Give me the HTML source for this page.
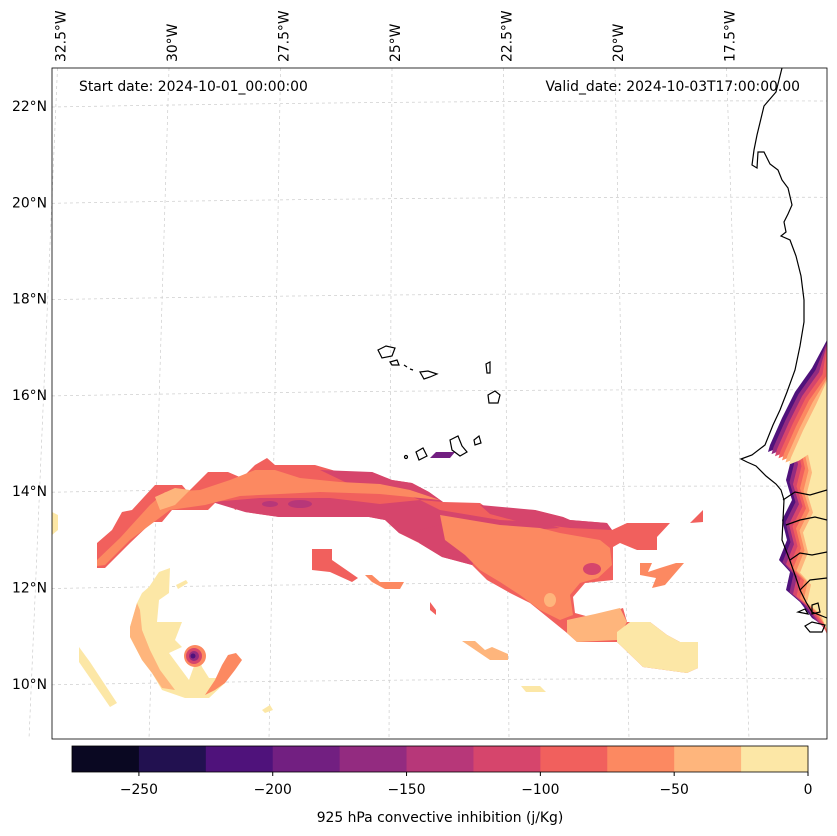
<!DOCTYPE html>
<html><head><meta charset="utf-8"><style>
body{margin:0;background:#fff;font-family:"Liberation Sans","DejaVu Sans",sans-serif}
svg{display:block}
text{font-family:"DejaVu Sans","Liberation Sans",sans-serif;font-size:13.9px;fill:#000}
</style></head><body>
<svg id="chart" width="837" height="836" viewBox="0 0 837 836">
<defs><clipPath id="mapclip"><rect x="52" y="68" width="775" height="671"/></clipPath></defs>
<rect x="0" y="0" width="837" height="836" fill="#fff"/>
<g id="grid"></g>
<g clip-path="url(#mapclip)">
 <polygon fill="#f1605d" points="97,543 112,530 122,512 132,510 155,485 182,485 188,492 208,472 228,472 242,478 255,465 267,458 275,465 315,465 339,472 372,472 392,480 412,483 429,492 443,502 480,503 487,508 535,510 563,517 570,520 607,523 612,530 627,523 670,523 657,537 657,550 637,550 620,543 613,547 613,580 585,583 573,597 575,613 593,618 623,608 627,622 650,622 667,635 680,642 698,642 698,668 687,673 643,667 617,642 577,642 567,633 530,603 510,593 487,580 472,565 442,557 419,543 399,533 385,520 369,517 279,517 245,512 242,507 235,510 232,503 215,503 208,510 172,510 162,522 152,522 130,543 105,568 97,568"/>
 <polygon fill="#d6456c" points="212,502 260,498 330,498 380,504 420,500 440,510 470,515 500,520 540,522 560,528 530,530 500,528 470,522 440,530 420,543 399,533 385,520 369,517 279,517 245,512"/>
 <polygon fill="#d6456c" points="320,470 372,472 392,480 412,483 429,492 443,502 420,500 400,492 370,488 345,482"/>
 <polygon fill="#d6456c" points="480,505 535,510 563,517 570,520 607,523 612,530 570,528 520,522 490,514"/>
 <polygon fill="#d6456c" points="420,530 440,525 470,545 475,560 472,565 442,557 419,543"/>
 <ellipse cx="300" cy="504" rx="12" ry="4" fill="#b73779"/>
 <ellipse cx="270" cy="504" rx="8" ry="3" fill="#b73779"/>
 <polygon fill="#fc8961" points="97,560 120,538 150,505 165,492 200,490 230,480 255,470 275,470 300,478 340,482 380,484 410,490 440,500 420,498 380,494 320,492 280,494 240,496 205,505 170,510 150,525 130,540 105,565 97,566"/>
 <polygon fill="#feb57c" points="155,497 175,488 190,490 175,505 160,510"/>
 <polygon fill="#fc8961" points="440,515 470,520 500,525 540,528 560,533 600,540 610,548 612,565 598,578 580,583 570,595 573,615 560,620 540,610 520,595 500,582 480,570 465,555 445,540"/>
 <ellipse cx="592" cy="569" rx="9" ry="6" fill="#d6456c"/>
 <ellipse cx="550" cy="600" rx="6" ry="7" fill="#feb57c"/>
 <polygon fill="#feb57c" points="567,620 595,614 620,608 627,622 617,640 577,642 567,633"/>
 <polygon fill="#fce7a6" points="617,632 630,622 650,622 667,635 680,642 698,642 698,668 687,673 643,667 617,642"/>
 <polygon fill="#f1605d" points="312,549 332,549 332,560 358,578 352,582 330,572 312,570"/>
 <polygon fill="#fc8961" points="365,575 372,575 380,582 404,582 400,589 385,589 372,582"/>
 <polygon fill="#f1605d" points="430,602 436,610 436,615 430,610"/>
 <polygon fill="#fc8961" points="640,563 652,563 648,572 660,568 676,563 684,563 665,585 652,588 656,578 640,575"/>
 <polygon fill="#f1605d" points="703,510 703,522 690,523"/>
 <polygon fill="#feb57c" points="462,641 475,641 485,650 492,647 508,654 508,660 490,660"/>
 <polygon fill="#fce7a6" points="521,686 540,686 546,692 526,692"/>
 <polygon fill="#fce7a6" points="262,710 270,705 273,710 265,713"/>
 <polygon fill="#fce7a6" points="52,512 58,515 58,530 52,535"/>
 <polygon fill="#fce7a6" points="170,568 159,572 149,587 142,593 137,603 130,627 130,637 142,660 152,673 162,690 185,698 209,698 225,683 235,667 233,655 227,663 217,678 209,678 202,667 198,655 189,680 169,653 182,647 175,640 182,622 157,622 159,600 169,593"/>
 <polygon fill="#feb57c" points="137,603 130,627 130,637 142,660 152,673 162,688 175,690 160,670 150,650 142,630 140,610"/>
 <polygon fill="#fc8961" points="228,655 236,653 242,660 235,670 225,683 215,690 205,695 215,680 222,665"/>
 <polygon fill="#fce7a6" points="79,647 90,662 117,703 110,707 79,662"/>
 <polygon fill="#fce7a6" points="176,585 186,580 188,583 178,589"/>
 <circle cx="195" cy="656" r="11" fill="#fc8961"/>
 <circle cx="194" cy="656" r="8" fill="#d6456c"/>
 <circle cx="194" cy="656" r="5" fill="#932b80"/>
 <circle cx="193" cy="656" r="2.5" fill="#4f127b"/>
 <polygon fill="#721f81" points="436,452 455,452 450,458 430,458"/>
 <g id="coastfill"></g>
</g>
<g fill="none" stroke="#000" stroke-width="1.2" clip-path="url(#mapclip)">
 <polyline points="782,68 776,92 764,106 757,135 754,150 752,165 757,168 758,152 764,152 770,164 778,170 782,180 788,188 792,205 788,214 784,222 786,232 781,236 790,240 796,256 801,276 804,300 804,322 800,346 795,370 787,392 780,410 773,425 765,445 752,455 741,459 747,462 756,466 766,476 776,484 781,490 784,500 783,520 782,540 789,558 795,575 800,590 806,602 812,612 827,618"/>
 <polyline points="783,500 795,492 810,495 827,490"/>
 <polyline points="786,525 800,520 815,517 827,520"/>
 <polyline points="790,560 800,553 812,555 827,552"/>
 <polyline points="800,590 810,580 827,578"/>
 <path d="M378,350 L386,346 395,348 392,356 382,358 Z"/>
 <path d="M390,362 L397,360 399,365 392,365 Z"/>
 <path d="M404,365 L407,367"/>
 <path d="M410,369 L413,370"/>
 <path d="M420,372 L428,371 437,374 430,377 424,379 Z"/>
 <path d="M486,364 L490,362 490,373 487,373 Z"/>
 <path d="M488,395 L495,391 500,395 498,403 489,403 Z"/>
 <path d="M450,440 L458,436 462,446 467,452 460,456 452,450 Z"/>
 <path d="M474,440 L479,436 481,443 475,445 Z"/>
 <path d="M416,452 L423,448 427,456 419,460 Z"/>
 <circle cx="406" cy="457" r="1.5"/>
 <path d="M798,612 L805,609 808,614 Z"/>
 <path d="M812,605 L818,603 820,612 812,614 Z"/>
 <path d="M805,626 L812,622 825,625 822,632 810,632 Z"/>
</g>
<rect x="52" y="68" width="775" height="671" fill="none" stroke="#000" stroke-width="0.8"/>
<text x="79" y="91">Start date: 2024-10-01_00:00:00</text>
<text x="800" y="91" text-anchor="end">Valid_date: 2024-10-03T17:00:00.00</text>
<g id="labels"></g>
<g id="colorbar"></g>
<text x="440" y="822" text-anchor="middle">925 hPa convective inhibition (j/Kg)</text>
</svg>
<script>
const levels=[-275,-250,-225,-200,-175,-150,-125,-100,-75,-50,-25,0];
const levelColors=["#0a0822","#221150","#4f127b","#721f81","#932b80","#b73779","#d6456c","#f1605d","#fc8961","#feb57c","#fce7a6"];
const cbTicks=[-250,-200,-150,-100,-50,0];
const latTicks=[22,20,18,16,14,12,10];
const lonTicks=[32.5,30,27.5,25,22.5,20,17.5];
const NS="http://www.w3.org/2000/svg";
function mk(t,a,p){const e=document.createElementNS(NS,t);for(const k in a)e.setAttribute(k,a[k]);p.appendChild(e);return e;}
const cbX0=72,cbX1=808,cbY=746,cbH=26;
function cbx(v){return cbX0+(v-levels[0])/(levels[levels.length-1]-levels[0])*(cbX1-cbX0);}
const cb=document.getElementById('colorbar');
for(let i=0;i<levelColors.length;i++){
 const r=mk('rect',{x:cbx(levels[i]),y:cbY,width:cbx(levels[i+1])-cbx(levels[i])+0.5,height:cbH,fill:levelColors[i]},cb);
 
 
}
const fr=mk('rect',{x:cbX0,y:cbY,width:cbX1-cbX0,height:cbH,fill:'none',stroke:'#000','stroke-width':0.8},cb);


cbTicks.forEach(v=>{
 const x=cbx(v);
 const l=mk('line',{x1:x,x2:x,y1:cbY+cbH,y2:cbY+cbH+4,stroke:'#000'},cb);
 
 
 const t=mk('text',{x:x,y:794,'text-anchor':'middle'},cb);
 t.textContent=(v<0?'\u2212'+Math.abs(v):v);
 
 
});
const grid=document.getElementById('grid'),labels=document.getElementById('labels');
function latY(lat){return 106+(22-lat)*48.15;}
function lonXTop(lon){return 172+(30-lon)*44.6;}
function lonXBot(lon){return 152+(30-lon)*48;}
latTicks.forEach(lat=>{
 const y=latY(lat);
 const p=mk('path',{d:`M52,${y+1} Q440,${y-6} 827,${y-5}`,fill:'none',stroke:'#ccc','stroke-width':0.7,'stroke-dasharray':'3,3'},grid);
 
 
 const t=mk('text',{x:47,y:y+5,'text-anchor':'end'},labels);
 t.textContent=lat+'\u00b0N';
 
 
});
lonTicks.forEach(lon=>{
 const xt=lonXTop(lon)-3,xb=lonXBot(lon)-3;
 const p=mk('line',{x1:xt,y1:68,x2:xb,y2:739,stroke:'#ccc','stroke-width':0.7,'stroke-dasharray':'3,3'},grid);
 
 
 const x=lonXTop(lon)+5;
 const t=mk('text',{x:x,y:62,transform:`rotate(-90 ${x} 62)`},labels);
 t.textContent=lon+'\u00b0W';
 
 
});
const coastPts=[[827,340],[812,368],[795,392],[782,418],[770,445],[768,452],[778,448],[787,442],[791,460],[786,480],[792,500],[782,520],[787,540],[779,560],[790,572],[786,590],[800,602],[812,618],[827,628]];
const coastBandIdx=[2,4,6,7,8,9,10];
const cf=document.getElementById('coastfill');
coastBandIdx.forEach((ci,k)=>{
 const off=k*3.5;
 const pts=coastPts.map(p=>[Math.min(827,p[0]+off),p[1]+off*0.6]);
 pts.push([837,640],[837,330]);
 const pg=mk('polygon',{points:pts.map(p=>p.join(',')).join(' '),fill:levelColors[ci]},cf);
 
 
});
</script>
</body></html>
